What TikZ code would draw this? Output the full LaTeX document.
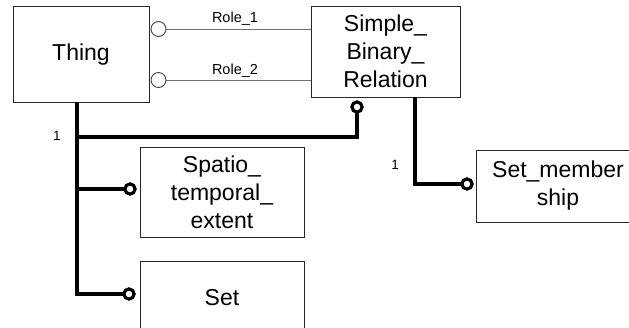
\documentclass[tikz,border=0pt]{standalone}
\usepackage{fontspec}
\setmainfont{Liberation Sans}
\begin{document}
\begin{tikzpicture}[x=1pt,y=-1pt,
  box/.style={draw=black!85, line width=0.9pt, rectangle, inner sep=0pt, align=center,
    font=\fontsize{23}{28}\selectfont},
  thickline/.style={line width=4pt, black},
  rolelink/.style={draw=black!55, line width=0.9pt},
  fullend/.style={circle, draw=black, line width=3pt, fill=white, inner sep=0pt, minimum size=10pt},
  openend/.style={circle, draw=black!75, line width=0.9pt, fill=white, inner sep=0pt, minimum size=15pt},
  rolelabel/.style={font=\fontsize{14.5}{16}\selectfont, inner sep=0pt},
  cardlabel/.style={font=\fontsize{13.5}{15}\selectfont, inner sep=0pt}]
\useasboundingbox (0,0) rectangle (629,328);

% classes
\node[box, minimum width=136pt, minimum height=96pt] (thing) at (81,54) {\raisebox{-7pt}[0pt][0pt]{Thing}};
\node[box, minimum width=149pt, minimum height=91pt] (sbr) at (385.5,51.5) {Simple\_\\Binary\_\\Relation};
\node[box, minimum width=164pt, minimum height=90pt] (ste) at (222,192) {Spatio\_\\temporal\_\\extent};
\node[box, minimum width=164pt, minimum height=74pt] (set) at (222,298) {Set};
\node[box, minimum width=164pt, minimum height=72pt] (setm) at (558,186) {Set\_member\\ship};

% role links between Thing and Simple_Binary_Relation
\node[openend] (r1) at (158.5,29) {};
\node[openend] (r2) at (158.5,80) {};
\draw[rolelink] (r1.east) -- (r1.east -| sbr.west);
\draw[rolelink] (r2.east) -- (r2.east -| sbr.west);
\node[rolelabel] (l1) at (235,19) {Role\_1};
\node[rolelabel] (l2) at (235,71) {Role\_2};

% subtype connectors
\coordinate (stem) at ([xshift=-4pt]thing.south);
\coordinate (sstem) at ([xshift=29.5pt]sbr.south);
\node[fullend] (e1) at (357,107) {};
\node[fullend] (e2) at (130,189) {};
\node[fullend] (e3) at (129,294) {};
\node[fullend] (e4) at (467,184) {};
\draw[thickline] (stem) |- (e3.west);
\draw[thickline] (stem |- 0,137) -| (e1.south);
\draw[thickline] (stem |- e2) -- (e2.west);
\draw[thickline] (sstem) |- (e4.west);
\node[fullend] at (e1) {};
\node[fullend] at (e2) {};
\node[fullend] at (e3) {};
\node[fullend] at (e4) {};

% cardinalities
\node[cardlabel] (n1) at (57,136) {1};
\node[cardlabel] (n2) at (395,165) {1};
\end{tikzpicture}
\end{document}
